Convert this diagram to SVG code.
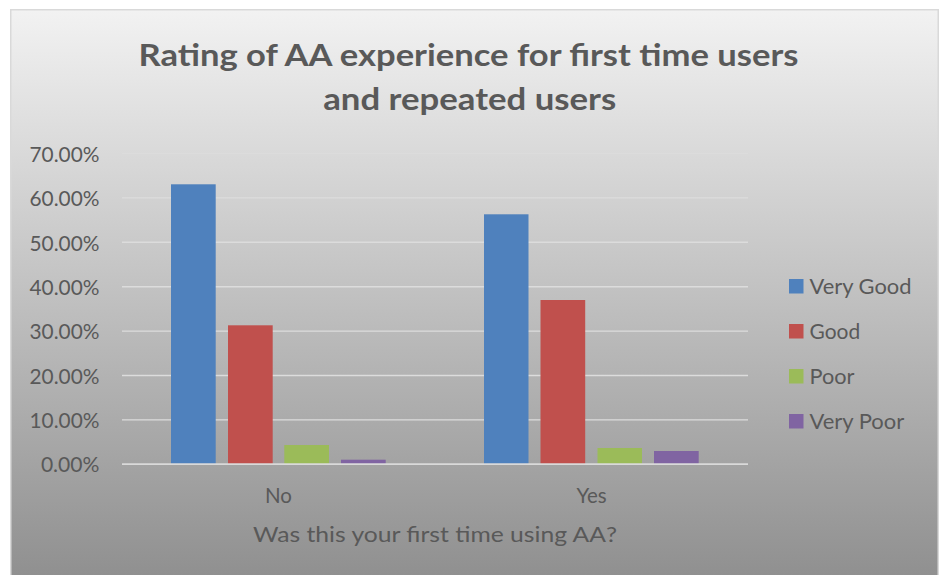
<svg xmlns="http://www.w3.org/2000/svg" width="944" height="575" viewBox="0 0 944 575">
<defs>
<linearGradient id="bg" gradientUnits="userSpaceOnUse" x1="0" y1="10" x2="0" y2="575">
<stop offset="0" stop-color="#f2f2f2"/>
<stop offset="1" stop-color="#909090"/>
</linearGradient>
<style>
text{font-family:Lato,"Liberation Sans",sans-serif;fill:#595959}
.title{font-size:31px;font-weight:bold;text-anchor:middle}
.tick{font-size:20.5px;text-anchor:end}
.cat{font-size:20.5px;text-anchor:middle}
.axt{font-size:22px;text-anchor:middle}
.leg{font-size:21px}
.grid{stroke:#dcdcdc;stroke-width:1.4;fill:none}
.axis{stroke:#d9d9d9;stroke-width:1.8;fill:none}
.vg{fill:#4f81bd}
.g{fill:#c0504d}
.p{fill:#9bbb59}
.vp{fill:#8064a2}
</style>
</defs>
<rect x="0" y="0" width="944" height="575" fill="#ffffff"/>
<rect id="chart-area" x="10.75" y="9.75" width="927.5" height="575" fill="url(#bg)" stroke="#d9d9d9" stroke-width="1.5"/>
<g id="title">
<text class="title" x="468.5" y="66" textLength="660" lengthAdjust="spacingAndGlyphs">Rating of AA experience for first time users</text>
<text class="title" x="469.7" y="110" textLength="293" lengthAdjust="spacingAndGlyphs">and repeated users</text>
</g>
<g id="gridlines">
<line class="grid" x1="122" y1="153.5" x2="748" y2="153.5"/>
<line class="grid" x1="122" y1="197.9" x2="748" y2="197.9"/>
<line class="grid" x1="122" y1="242.3" x2="748" y2="242.3"/>
<line class="grid" x1="122" y1="286.7" x2="748" y2="286.7"/>
<line class="grid" x1="122" y1="331.1" x2="748" y2="331.1"/>
<line class="grid" x1="122" y1="375.5" x2="748" y2="375.5"/>
<line class="grid" x1="122" y1="419.9" x2="748" y2="419.9"/>
</g>
<g id="y-axis-labels">
<text class="tick" x="99.5" y="161.7" textLength="70" lengthAdjust="spacingAndGlyphs">70.00%</text>
<text class="tick" x="99.5" y="206.1" textLength="70" lengthAdjust="spacingAndGlyphs">60.00%</text>
<text class="tick" x="99.5" y="250.5" textLength="70" lengthAdjust="spacingAndGlyphs">50.00%</text>
<text class="tick" x="99.5" y="294.9" textLength="70" lengthAdjust="spacingAndGlyphs">40.00%</text>
<text class="tick" x="99.5" y="339.3" textLength="70" lengthAdjust="spacingAndGlyphs">30.00%</text>
<text class="tick" x="99.5" y="383.7" textLength="70" lengthAdjust="spacingAndGlyphs">20.00%</text>
<text class="tick" x="99.5" y="428.1" textLength="70" lengthAdjust="spacingAndGlyphs">10.00%</text>
<text class="tick" x="99.5" y="472.3" textLength="58.6" lengthAdjust="spacingAndGlyphs">0.00%</text>
</g>
<g id="series-no">
<rect class="vg" x="171" y="184.3" width="44.7" height="279.7"/>
<rect class="g" x="228" y="325.3" width="44.7" height="138.7"/>
<rect class="p" x="284.3" y="445" width="44.7" height="19"/>
<rect class="vp" x="341" y="459.7" width="44.7" height="4.3"/>
</g>
<g id="series-yes">
<rect class="vg" x="484" y="214.3" width="44.5" height="249.7"/>
<rect class="g" x="540.5" y="300" width="44.7" height="164"/>
<rect class="p" x="597.5" y="448" width="44.5" height="16"/>
<rect class="vp" x="654" y="451" width="44.7" height="13"/>
</g>
<g id="x-axis">
<line class="axis" x1="122" y1="464.2" x2="748" y2="464.2"/>
<text class="cat" x="278.5" y="503">No</text>
<text class="cat" x="591.5" y="503">Yes</text>
<text class="axt" x="435" y="541.5" textLength="364" lengthAdjust="spacingAndGlyphs">Was this your first time using AA?</text>
</g>
<g id="legend">
<g id="legend-very-good"><rect class="vg" x="789" y="279" width="14.5" height="14.5"/><text class="leg" x="809.5" y="293.5" textLength="102" lengthAdjust="spacingAndGlyphs">Very Good</text></g>
<g id="legend-good"><rect class="g" x="789" y="324" width="14.5" height="14.5"/><text class="leg" x="809.5" y="338.5" textLength="50.7" lengthAdjust="spacingAndGlyphs">Good</text></g>
<g id="legend-poor"><rect class="p" x="789" y="369" width="14.5" height="14.5"/><text class="leg" x="809.5" y="383.5" textLength="45" lengthAdjust="spacingAndGlyphs">Poor</text></g>
<g id="legend-very-poor"><rect class="vp" x="789" y="414" width="14.5" height="14.5"/><text class="leg" x="809.5" y="428.5" textLength="94.7" lengthAdjust="spacingAndGlyphs">Very Poor</text></g>
</g>
</svg>
